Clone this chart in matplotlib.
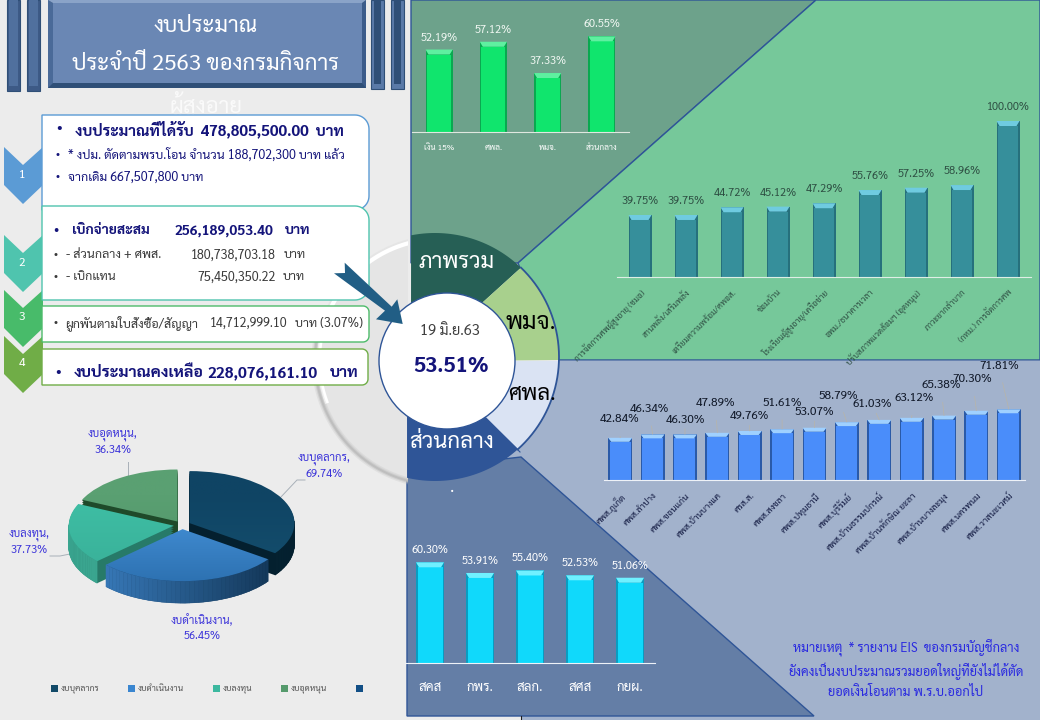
import numpy as np
import matplotlib
matplotlib.use("Agg")
import matplotlib.pyplot as plt
from matplotlib.patches import Polygon, Circle, Rectangle, Wedge

plt.rcParams['font.family'] = ['Sarabun', 'Noto Sans', 'DejaVu Sans']

W, H = 1040, 720

# ---------- data ----------
overview_cats = ["เงิน 15%", "ศพล.", "พมจ.", "ส่วนกลาง"]
overview_vals = [52.19, 57.12, 37.33, 60.55]

pmj_cats = ["การจัดการศพผู้สูงอายุ (ชมอ)", "สานพลัง/เสริมพลัง", "เตรียมความพร้อม/ศพอส.",
            "ซ่อมบ้าน", "โรงเรียนผู้สูงอายุ/เครือข่าย", "อพม./ธนาคารเวลา",
            "ปรับสภาพแวดล้อมฯ (อุดหนุน)", "ภาวะยากลำบาก", "(กทม.) การจัดการศพ"]
pmj_vals = [39.75, 39.75, 44.72, 45.12, 47.29, 55.76, 57.25, 58.96, 100.00]

spl_cats = ["ศพส.ภูเก็ต", "ศพส.ลำปาง", "ศพส.ขอนแก่น", "ศพส.บ้านบางแค", "ศรส.ส.", "ศพส.สงขลา",
            "ศพส.ปทุมธานี", "ศพส.บุรีรัมย์", "ศพส.บ้านธรรมปกรณ์", "ศพส.บ้านทักษิณ ยะลา",
            "ศพส.บ้านบางละมุง", "ศพส.นครพนม", "ศพส.วาสนะเวศม์"]
spl_vals = [42.84, 46.34, 46.30, 47.89, 49.76, 51.61, 53.07, 58.79, 61.03, 63.12, 65.38, 70.30, 71.81]

central_cats = ["สคส", "กพร.", "สลก.", "สศส", "กยผ."]
central_vals = [60.30, 53.91, 55.40, 52.53, 51.06]

pie_cats = ["งบบุคลากร", "งบดำเนินงาน", "งบลงทุน", "งบอุดหนุน"]
pie_vals = [69.74, 56.45, 37.73, 36.34]

fig = plt.figure(figsize=(W / 100, H / 100), dpi=100, facecolor="#ececec")

bg = fig.add_axes([0, 0, 1, 1])
bg.set_xlim(0, W)
bg.set_ylim(H, 0)
bg.axis("off")


def poly(pts, fc, ec="none", lw=0.0, z=1):
    bg.add_patch(Polygon(pts, closed=True, fc=fc, ec=ec, lw=lw, zorder=z))


def label(x, y, s, size, color="#000000", ha="left", weight="normal", z=10, **kw):
    return bg.text(x, y, s, fontsize=size, color=color, ha=ha, va="center", fontweight=weight, zorder=z, **kw)


def box(x0, y0, x1, y1, r, ec):
    # white box, only the right corners are round
    t = np.linspace(0, np.pi / 2, 12)
    pts = [(x0, y0)]
    pts += [(x1 - r + r * np.sin(a), y0 + r - r * np.cos(a)) for a in t]
    pts += [(x1 - r + r * np.cos(a), y1 - r + r * np.sin(a)) for a in t]
    pts += [(x0, y1)]
    poly(pts, "#ffffff", ec, 1.0, z=5)


# ---------- panels behind the charts ----------
poly([(411, 0), (816, 0), (518, 263), (411, 263)], "#6da28b", "#2f5597", 1.0, z=1)
poly([(816, 0), (1040, 0), (1040, 360), (559, 360), (518, 263)], "#76c89a", "#2f5597", 1.0, z=1)
poly([(500, 361), (1040, 361), (1040, 720), (521, 720), (521, 480), (500, 480)], "#a2b2cc", z=1)
poly([(407, 470), (521, 457), (814, 716), (407, 716)], "#647ea6", "#2f5597", 1.0, z=2)
bg.plot([521, 521], [716, 720], color="#202020", lw=0.8, zorder=2)

# ---------- big grey ring, only its left part shows ----------
ring_clip = Rectangle((0, 0), 408, H, transform=bg.transData)
disc = Circle((440, 360), 125, fc="#e5e5e5", ec="none", zorder=2.2)
bg.add_patch(disc)
disc.set_clip_path(ring_clip)
t = np.radians(np.linspace(100, 200, 60))
hi, = bg.plot(440 + 121 * np.cos(t), 360 - 121 * np.sin(t), color="#ffffff", lw=3, zorder=2.3)
hi.set_clip_path(ring_clip)
t = np.radians(np.linspace(170, 262, 60))
for lw, a in [(5, 0.25), (3, 0.45), (1.5, 0.9)]:
    lo, = bg.plot(440 + 125 * np.cos(t), 360 - 125 * np.sin(t), color="#bdbdbd", lw=lw, alpha=a, zorder=2.3)
    lo.set_clip_path(ring_clip)

# ---------- doughnut ----------
cx, cy, R = 435, 357, 124


def arc(p0, p1, n=40):
    a0 = np.arctan2(p0[1] - cy, p0[0] - cx)
    a1 = np.arctan2(p1[1] - cy, p1[0] - cx)
    if a1 < a0 and a0 - a1 > np.pi:
        a1 += 2 * np.pi
    a = np.linspace(a0, a1, n)
    return list(zip(cx + R * np.cos(a), cy + R * np.sin(a)))


poly(arc((411, 235), (520.7, 268)) + [(482, 303), (447, 361), (411, 361)], "#265f55", z=3)
poly(arc((520.7, 268), (559, 360)) + [(447, 361), (482, 303)], "#a8d08d", z=3)
poly(arc((559, 361), (520, 452)) + [(485, 417), (447, 361)], "#dae3f3", z=3)
poly(arc((518, 449), (407, 478)) + [(407, 361), (447, 361), (485, 417)], "#2f5597", z=3)
edge = np.array(arc((520.7, 268), (520, 452)))
bg.plot(edge[:, 0], edge[:, 1], color="#2f5597", lw=1.3, zorder=3.1)
bg.plot([485, 520], [417, 452], color="#2f5597", lw=0.8, zorder=3.1)
bg.add_patch(Circle((447, 361), 68, fc="#ffffff", ec="#2f5597", lw=1.0, zorder=3.2))

label(457, 263, "ภาพรวม", 16, "#ffffff", "center", z=4)
label(531, 323, "พมจ.", 17, "#000000", "center", z=4)
label(532, 395, "ศพล.", 16, "#000000", "center", z=4)
label(452, 442, "ส่วนกลาง", 16, "#ffffff", "center", z=4)
label(452, 488, ".", 12, "#ffffff", "center", z=4)
label(450, 332, "19 มิ.ย.63", 10.5, "#404040", "center", z=4)
label(451, 366, "53.51%", 15.5, "#14147a", "center", "bold", z=4)

# arrow into the circle
poly([(344.7, 262.7), (391.7, 306.7), (397.3, 299.3), (402.7, 324), (376, 319.3),
      (385, 310.7), (334, 273.3), (345, 273)], "#215e85", z=6)

# ---------- header ----------
poly([(48, 0), (366, 0), (366, 88), (48, 88)], "#2f4f77", z=1)
poly([(48, 0), (53, 3), (53, 83), (48, 88)], "#4a6a98", z=1.1)
poly([(366, 0), (362, 3), (362, 83), (366, 88)], "#3c5c8a", z=1.1)
poly([(48, 0), (366, 0), (362, 3), (53, 3)], "#8aa3c8", z=1.1)
poly([(53, 3), (362, 3), (362, 83), (53, 83)], "#6a87b4", z=1.2)
for x0, x1 in [(7, 20), (27, 40)]:
    poly([(x0, 0), (x1, 0), (x1, 91), (x0, 91)], "#3d5a86", "#2f4f77", 0.8, z=1)
    poly([(x0 + 2, 0), (x1 - 2, 0), (x1 - 2, 86), (x0 + 2, 86)], "#50709e", z=1.1)
for x0, x1 in [(371, 384), (391, 404)]:
    poly([(x0, 0), (x1, 0), (x1, 89), (x0, 89)], "#5a7aa8", "#2f4f77", 0.8, z=1)
    poly([(x0 + 3, 0), (x1 - 3, 0), (x1 - 3, 84), (x0 + 3, 84)], "#2f4f77", z=1.1)
label(206, 27, "งบประมาณ", 16, "#ffffff", "center", z=2)
label(206, 65, "ประจำปี 2563 ของกรมกิจการ", 16, "#ffffff", "center", z=2)
label(206, 105, "ผู้สูงอายุ", 16, "#fafafa", "center", z=2)

# ---------- chevrons ----------
chevrons = [(147, "#5b9bd5", "1"), (235, "#4fc4ae", "2"), (290, "#48bb6a", "3"), (336, "#70ad47", "4")]
for i, (y, c, num) in enumerate(chevrons):
    poly([(4, y), (23, y + 18), (43, y), (43, y + 38), (23, y + 57), (4, y + 38)], c, z=3 + i * 0.1)
    label(22, y + 28, num, 8.5, "#ffffff", "center", z=4)

# ---------- text boxes ----------
box(42, 115, 369, 210, 14, "#5b9bd5")
box(42, 206, 369, 300, 14, "#4fc4ae")
box(42, 306, 369, 342, 6, "#4dbb6a")
box(42, 349, 368, 385, 6, "#70ad47")

navy = "#14147a"
grey = "#3a3a3a"
label(59, 129, "•", 11, navy, "center")
label(75, 129, "งบประมาณที่ได้รับ  478,805,500.00  บาท", 11, navy, weight="bold")
label(58, 155, "•", 8, navy, "center")
label(68, 155, "* งปม. ตัดตามพรบ.โอน จำนวน 188,702,300 บาท แล้ว", 9, navy)
label(58, 177, "•", 8, navy, "center")
label(68, 177, "จากเดิม 667,507,800 บาท", 9, navy)

label(56, 231, "•", 10, navy, "center")
label(72, 231, "เบิกจ่ายสะสม", 10, navy, weight="bold")
label(175, 231, "256,189,053.40", 10, navy, weight="bold")
label(285, 231, "บาท", 10, navy, weight="bold")
label(56, 255, "•", 8, grey, "center")
label(66, 255, "- ส่วนกลาง + ศพส.", 9, grey)
label(191, 255, "180,738,703.18", 9, grey)
label(284, 255, "บาท", 9, grey)
label(56, 277, "•", 8, grey, "center")
label(66, 277, "- เบิกแทน", 9, grey)
label(197, 277, "75,450,350.22", 9, grey)
label(283, 277, "บาท", 9, grey)

label(55, 323, "•", 8, grey, "center")
label(65, 323, "ผูกพันตามใบสั่งซื้อ/สัญญา", 9, grey)
label(210, 323, "14,712,999.10", 9, grey)
label(295, 323, "บาท (3.07%)", 9, grey)

label(58, 373, "•", 11, navy, "center")
label(74, 373, "งบประมาณคงเหลือ", 11.5, navy, weight="bold")
label(207, 373, "228,076,161.10", 11.2, navy, weight="bold")
label(330, 373, "บาท", 11.2, navy, weight="bold")

# note in the lower right corner
note_blue = "#2a2ae0"
label(906, 647, "หมายเหตุ  * รายงาน EIS  ของกรมบัญชีกลาง", 9.2, note_blue, "center")
label(906, 671, "ยังคงเป็นงบประมาณรวมยอดใหญ่ที่ยังไม่ได้ตัด", 9.2, note_blue, "center")
label(906, 693, "ยอดเงินโอนตาม พ.ร.บ.ออกไป", 9.2, note_blue, "center")


# ---------- bar charts ----------
def bar_axes(x0, x1, base, ppu, ymax):
    ax = fig.add_axes([x0 / W, 1 - base / H, (x1 - x0) / W, ymax * ppu / H])
    ax.patch.set_alpha(0)
    for s in ax.spines.values():
        s.set_visible(False)
    ax.set_yticks([])
    ax.set_ylim(0, ymax)
    return ax


def bevel_bars(ax, vals, width, ppu, main, top, dark, band=5, side=1.5):
    x = np.arange(len(vals))
    ax.bar(x, vals, width, color=dark, linewidth=0)
    inset = side / (ax.get_position().width * W / len(vals))
    dy = band / ppu
    ax.bar(x, np.array(vals) - dy, width - 2 * inset, bottom=0, color=main, linewidth=0)
    for xi, v in zip(x, vals):
        ax.add_patch(Polygon([(xi - width / 2, v), (xi + width / 2, v),
                              (xi + width / 2 - inset * 2, v - dy), (xi - width / 2 + inset * 2, v - dy)],
                             closed=True, fc=top, ec="none"))
    ax.set_xlim(-0.5, len(vals) - 0.5)
    return x


def value_labels(ax, vals, color, size, pad=6):
    for i, v in enumerate(vals):
        ax.annotate("%.2f%%" % v, (i, v), xytext=(0, pad), textcoords="offset pixels",
                    ha="center", va="bottom", fontsize=size, color=color, annotation_clip=False)


# overview, top left
ax1 = bar_axes(412, 629, 132, 1.58, 80)
x = bevel_bars(ax1, overview_vals, 0.5, 1.58, "#10e56d", "#5ef0a0", "#0aa850")
value_labels(ax1, overview_vals, "#f0f7f2", 8)
ax1.set_xticks(x, overview_cats, fontsize=6, color="#ffffff")
ax1.tick_params(axis="x", length=0, pad=9)
ax1.spines["bottom"].set_visible(True)
ax1.spines["bottom"].set_color("#e0e8e0")

# pmj, middle right
ax2 = bar_axes(617, 1031, 277, 1.56, 110)
x = bevel_bars(ax2, pmj_vals, 0.5, 1.56, "#368f9b", "#6fcbe0", "#26707c")
value_labels(ax2, pmj_vals, "#2e4f43", 8, pad=8)
ax2.set_xticks(x, pmj_cats, fontsize=6, color="#2e4f43", rotation=45, ha="right", rotation_mode="anchor")
ax2.tick_params(axis="x", length=0, pad=8)
ax2.spines["bottom"].set_visible(True)
ax2.spines["bottom"].set_color("#dfeee5")

# centres, lower right
ax3 = bar_axes(604, 1025, 480, 0.985, 80)
x = bevel_bars(ax3, spl_vals, 0.74, 0.985, "#4a8dfa", "#9fd0ff", "#2a5aa8", band=4)
spl_offs = [(-1, 18), (-3, 25), (0, 14), (-2, 29), (0, 14), (0, 26), (0, 15),
            (-9, 26), (-7, 15), (2, 19), (-3, 30), (-4, 31), (-10, 43)]
for i, v in enumerate(spl_vals):
    ax3.annotate("%.2f%%" % v, (i, v), xytext=spl_offs[i], textcoords="offset pixels",
                 ha="center", va="center", fontsize=8.5, color="#101828", annotation_clip=False,
                 arrowprops=dict(arrowstyle="-", color="#b8b4a8", lw=0.5, shrinkA=6, shrinkB=0))
ax3.set_xticks(x, spl_cats, fontsize=6.5, color="#101840", rotation=45, ha="right", rotation_mode="anchor")
ax3.tick_params(axis="x", length=0, pad=8)
ax3.spines["bottom"].set_visible(True)
ax3.spines["bottom"].set_color("#eef2f8")

# central offices, bottom left
ax4 = bar_axes(405, 655, 663, 1.67, 70)
x = bevel_bars(ax4, central_vals, 0.56, 1.67, "#10d9fb", "#70f0ff", "#0a9cc0")
value_labels(ax4, central_vals, "#ffffff", 8)
ax4.set_xticks(x, central_cats, fontsize=9.5, color="#ffffff")
ax4.tick_params(axis="x", length=0, pad=13)
ax4.spines["bottom"].set_visible(True)
ax4.spines["bottom"].set_color("#eef2f8")

# ---------- 3d pie, squashed ----------
rx, ry, depth = 105, 52, 22
pie_cy = 525
axp = fig.add_axes([32 / W, 1 - 630 / H, 300 / W, 180 / H])
xlim = (-150 / rx, 150 / rx)
ylim = (-(630 - pie_cy) / ry, (pie_cy - 450) / ry)
wedges, _ = axp.pie(pie_vals, explode=[0.08] * 4, startangle=90, counterclock=False, radius=1,
                    colors=["#124a68", "#3a86d0", "#3cb89f", "#559a6c"])
axp.set_aspect("auto")
to_rgb = matplotlib.colors.to_rgb
side_left = ["#0a2a3e", "#3c82c6", "#3aa58f", "#2c6a45"]
side_right = ["#04202f", "#10314f", "#3aa58f", "#2c6a45"]
radial = ["#04202f", "#10314f", "#277a68", "#1f4a2a"]
grads = [("#0f4464", "#15506f"), ("#4a98e0", "#2c70b0"), ("#3fbfa5", "#38ae97"), ("#5aa072", "#4e9066")]
dz = depth / ry

# back slices first so the front ones cover them
for order, i in enumerate([3, 2, 0, 1]):
    w = wedges[i]
    w.set_visible(False)
    base_z = 2 + order
    c0 = np.array(to_rgb(side_left[i]))
    c1 = np.array(to_rgb(side_right[i]))
    for k in np.linspace(dz, 0.02, 12):
        axp.add_patch(Wedge((w.center[0], w.center[1] - k), 1, w.theta1, w.theta2,
                            fc=radial[i], ec="none", zorder=base_z))
    # outer rim, coloured along the arc
    th = np.radians(np.linspace(w.theta1, w.theta2, 41))
    for a, b in zip(th[:-1], th[1:]):
        if np.sin((a + b) / 2) > 0.02:
            continue
        f = (np.cos((a + b) / 2) + 1) / 2
        cc = c0 + (c1 - c0) * f
        pts = [(w.center[0] + np.cos(a), w.center[1] + np.sin(a)), (w.center[0] + np.cos(b), w.center[1] + np.sin(b)),
               (w.center[0] + np.cos(b), w.center[1] + np.sin(b) - dz), (w.center[0] + np.cos(a), w.center[1] + np.sin(a) - dz)]
        axp.add_patch(Polygon(pts, closed=True, fc=cc, ec=cc, lw=0.3, zorder=base_z + 0.1))
    # top face with a soft gradient
    face = Wedge(w.center, 1, w.theta1, w.theta2, fc="none", ec="none", zorder=base_z + 0.2)
    axp.add_patch(face)
    g = np.array([to_rgb(grads[i][0]), to_rgb(grads[i][1])])[:, None, :]
    im = axp.imshow(g, extent=(xlim[0], xlim[1], ylim[0], ylim[1]), aspect="auto",
                    zorder=base_z + 0.2, interpolation="bilinear")
    im.set_clip_path(face)

axp.set_xlim(xlim)
axp.set_ylim(ylim)

pie_label_pos = [(324, 467), (202, 628), (29, 543), (113, 443)]
for name, v, (tx, ty) in zip(pie_cats, pie_vals, pie_label_pos):
    label(tx, ty, "%s,\n%.2f%%" % (name, v), 8, "#3b33d9", "center", linespacing=1.5)
bg.plot([305, 297, 280], [480, 480, 498], color="#a8b0b8", lw=0.7, zorder=9)
bg.plot([50, 60, 70], [556, 556, 554], color="#a8b0b8", lw=0.7, zorder=9)
bg.plot([128, 128], [462, 480], color="#a8b0b8", lw=0.7, zorder=9)

# legend under the pie
legend_x = [51, 128, 213, 281, 356]
legend_c = ["#124a68", "#3a86d0", "#3cb89f", "#559a6c", "#124f86"]
for lx, lc, name in zip(legend_x, legend_c, pie_cats + [""]):
    bg.add_patch(Rectangle((lx, 685), 7, 7, fc=lc, ec="none", zorder=9))
    label(lx + 10, 688.5, name, 6.2, "#505050", z=9)

fig.savefig("out.png", dpi=100, facecolor=fig.get_facecolor())
